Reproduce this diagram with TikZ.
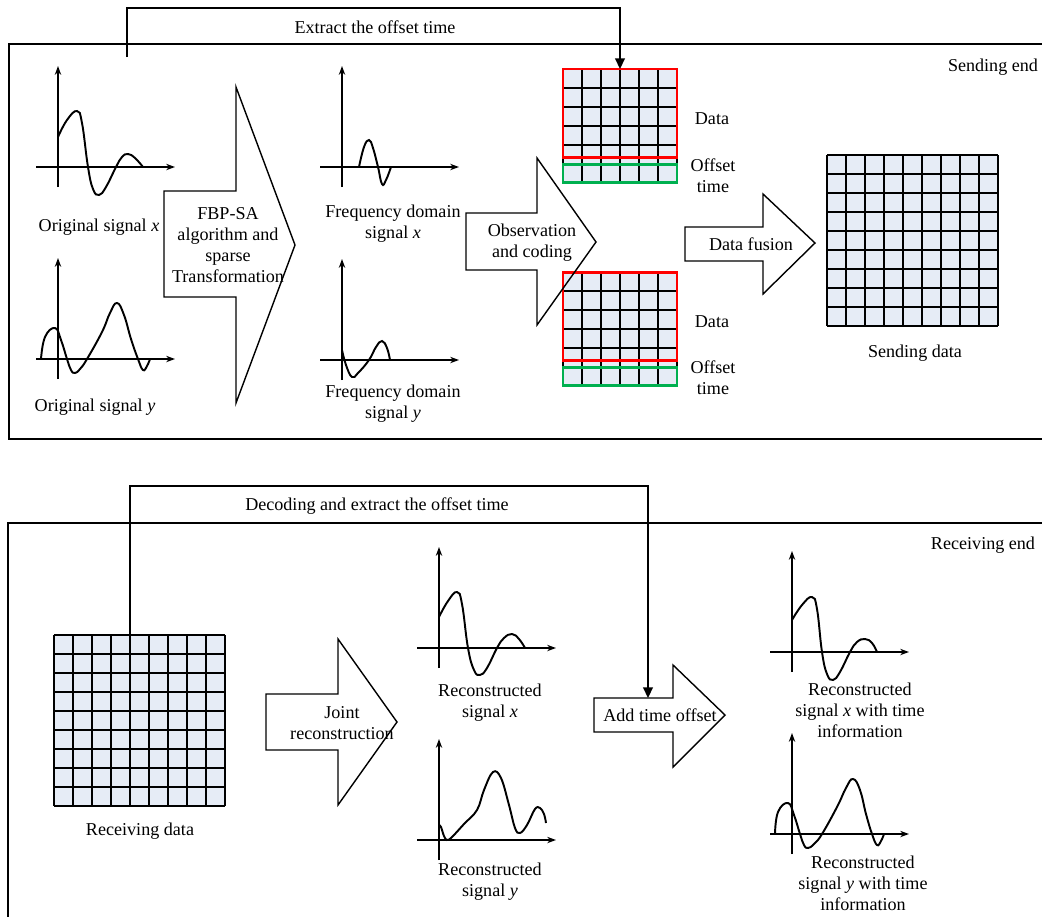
\documentclass[tikz,border=0pt]{standalone}
\usepackage{fontspec}
\setmainfont{Liberation Serif}
\usetikzlibrary{arrows.meta}
\definecolor{cellfill}{RGB}{230,236,246}
\definecolor{datared}{RGB}{255,0,0}
\definecolor{offgreen}{RGB}{0,176,80}
\begin{document}
\begin{tikzpicture}[x=0.02cm,y=-0.02cm,line width=0.8pt,
		every node/.style={font=\fontsize{10.3}{11.9}\selectfont,align=center,inner sep=0pt},
		axis/.style={line width=1.1pt,-{Stealth[length=5pt,width=3.6pt]}},
		wave/.style={line width=1.1pt},
		blockarrow/.style={draw,line width=0.8pt,line join=miter},
		feed/.style={line width=0.9pt,-{Triangle[length=6pt,width=5.5pt]}},
		cell/.style={line width=1.1pt},
		framebox/.style={line width=0.9pt}]
	\useasboundingbox (0,0) rectangle (1042,917);

	\draw[framebox] (1042,44) -- (9,44) -- (9,439) -- (1042,439);
	\draw[framebox] (1042,523) -- (8,523) -- (8,917);
	\node (sendend) at (993,67) {Sending end};
	\node (recvend) at (983,545) {Receiving end};

	\foreach \ox/\oy in {58/167,58/359,342/167,342/360,439/648,439/840,792/652,792/834} {
		\draw[axis] (\ox-22,\oy) -- (\ox+117,\oy);
		\draw[axis] (\ox,\oy+20) -- (\ox,\oy-101);
	}
	\begin{scope}[shift={(58,167)}]
		\draw[wave] plot[smooth,tension=0.75] coordinates {(0,-30) (9,-47) (19,-56) (24,-44) (30,0) (35,22) (41,28) (48,20) (58,0) (64,-10) (70,-13) (77,-9) (85,0)};
	\end{scope}
	\begin{scope}[shift={(58,359)}]
		\draw[wave] plot[smooth,tension=0.75] coordinates {(-17,0) (-13,-22) (-3,-31) (3,-19) (9,0) (13,11) (17,14) (22,10) (29,0) (44,-27) (52,-46) (59,-56) (66,-44) (73,-20) (80,0) (85,11) (89,7) (92,0)};
	\end{scope}
	\begin{scope}[shift={(342,167)}]
		\draw[wave] plot[smooth,tension=0.75] coordinates {(17,0) (22,-20) (27,-27) (31,-19) (36,0) (40,17) (44,13) (49,0)};
	\end{scope}
	\begin{scope}[shift={(342,360)}]
		\draw[wave] plot[smooth,tension=0.75] coordinates {(0,-10) (4,5) (10,17) (16,13) (27,0) (34,-13) (40,-19) (45,-12) (48,0)};
	\end{scope}
	\begin{scope}[shift={(439,648)}]
		\draw[wave] plot[smooth,tension=0.75] coordinates {(0,-31) (9,-47) (18,-56) (23,-44) (29,0) (35,22) (41,27) (48,20) (58,0) (65,-10) (73,-14) (80,-9) (86,0)};
	\end{scope}
	\begin{scope}[shift={(439,840)}]
		\draw[wave] plot[smooth,tension=0.65] coordinates {(0,-15) (2,-13) (5,-4) (8,0) (13,-3) (25,-16) (38,-30) (45,-50) (54,-68) (62,-62) (70,-35) (76,-12) (81,-7) (88,-15) (96,-31) (101,-32) (105,-26) (107,-17)};
	\end{scope}
	\begin{scope}[shift={(792,652)}]
		\draw[wave] plot[smooth,tension=0.75] coordinates {(0,-32) (10,-47) (20,-55) (25,-43) (30,0) (35,22) (41,28) (48,20) (58,0) (65,-10) (73,-13) (80,-9) (85,0)};
	\end{scope}
	\begin{scope}[shift={(792,834)}]
		\draw[wave] plot[smooth,tension=0.75] coordinates {(-17,0) (-14,-22) (-4,-31) (2,-19) (8,0) (12,11) (16,14) (22,10) (30,0) (45,-27) (54,-46) (61,-55) (68,-44) (74,-20) (80,0) (85,11) (89,7) (92,0)};
	\end{scope}

	\node (origx) at (99,227) {Original signal \textit{x}};
	\node (origy) at (95,407) {Original signal \textit{y}};
	\node (freqx) at (393,224) {Frequency domain\\signal \textit{x}};
	\node (freqy) at (393,404) {Frequency domain\\signal \textit{y}};
	\node (recx) at (490,703) {Reconstructed\\signal \textit{x}};
	\node (recy) at (490,882) {Reconstructed\\signal \textit{y}};
	\node (recxt) at (860,710) {Reconstructed\\signal \textit{x} with time\\information};
	\node (recyt) at (863,883) {Reconstructed\\signal \textit{y} with time\\information};

	\foreach \gy in {69,272} {
		\fill[cellfill] (563,\gy) rectangle (677,\gy+114);
		\foreach \i in {0,...,6} {
			\draw[cell] (563+19*\i,\gy) -- (563+19*\i,\gy+114);
			\draw[cell] (563,\gy+19*\i) -- (677,\gy+19*\i);
		}
		\draw[datared,line width=1.7pt] (563,\gy) rectangle (677,\gy+88);
		\draw[offgreen,line width=1.7pt] (563,\gy+95) rectangle (677,\gy+113);
	}
	\node (data1) at (712,119) {Data};
	\node (off1) at (713,176) {Offset\\time};
	\node (data2) at (712,322) {Data};
	\node (off2) at (713,378) {Offset\\time};

	\fill[cellfill] (827,155) rectangle (998,326);
	\fill[cellfill] (54,635) rectangle (225,806);
	\foreach \i in {0,...,9} {
		\draw[cell] (827+19*\i,155) -- (827+19*\i,326);
		\draw[cell] (827,155+19*\i) -- (998,155+19*\i);
		\draw[cell] (54+19*\i,635) -- (54+19*\i,806);
		\draw[cell] (54,635+19*\i) -- (225,635+19*\i);
	}
	\node (senddata) at (915,353) {Sending data};
	\node (recvdata) at (140,831) {Receiving data};

	\draw[blockarrow] (164,191) -- (236,191) -- (236,87) -- (295,245) -- (236,403) -- (236,297) -- (164,297) -- cycle;
	\node (fbp) at (228,245) {FBP-SA\\algorithm and\\sparse\\Transformation};
	\draw[blockarrow] (466,213) -- (537,213) -- (537,158) -- (596,242) -- (537,325) -- (537,270) -- (466,270) -- cycle;
	\node (obs) at (532,243) {Observation\\and coding};
	\draw[blockarrow] (685,227) -- (763,227) -- (763,194) -- (815,243) -- (763,294) -- (763,261) -- (685,261) -- cycle;
	\node (fusion) at (751,244) {Data fusion};
	\draw[blockarrow] (266,694) -- (338,694) -- (338,639) -- (397,722) -- (338,805) -- (338,750) -- (266,750) -- cycle;
	\node (joint) at (342,723) {Joint\\reconstruction};
	\draw[blockarrow] (594,698) -- (673,698) -- (673,665) -- (725,715) -- (673,767) -- (673,732) -- (594,732) -- cycle;
	\node (addoff) at (660,715) {Add time offset};

	\coordinate (src1) at (127,57);
	\coordinate (dtop) at (620,69);
	\coordinate (src2) at (130,635);
	\coordinate (atop) at (648,698);
	\draw[feed] (src1) -- ++(0,-49) -| (dtop);
	\draw[feed] (src2) -- ++(0,-149) -| (atop);
	\node (extract) at (375,27) {Extract the offset time};
	\node (decode) at (377,506) {Decoding and extract the offset time};
\end{tikzpicture}
\end{document}
